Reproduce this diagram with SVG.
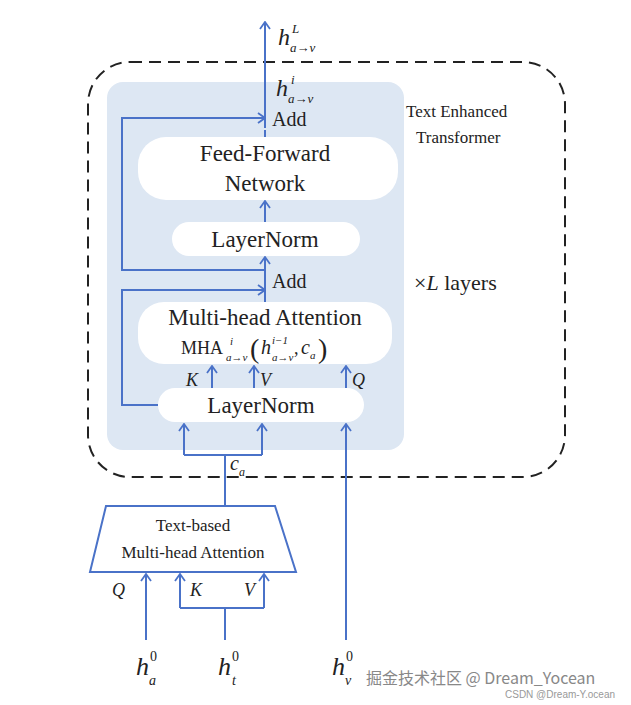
<svg xmlns="http://www.w3.org/2000/svg" width="631" height="705" viewBox="0 0 631 705">
<defs>
<marker id="a" viewBox="0 0 12 12" refX="11" refY="6" markerWidth="12" markerHeight="12" markerUnits="userSpaceOnUse" orient="auto"><path d="M4 1 L11 6 L4 11" fill="none" stroke="#4a72c8" stroke-width="1.8"/></marker>
</defs>
<style>
.t{font-family:"Liberation Serif",serif;fill:#222}
.i{font-style:italic}
.c{stroke:#4a72c8;stroke-width:2;fill:none}
.w{fill:#fff}
</style>
<rect width="631" height="705" fill="#fff"/>
<rect x="88" y="62" width="477" height="415" rx="42" fill="none" stroke="#222" stroke-width="2" stroke-dasharray="12,7"/>
<rect x="107" y="82" width="297" height="368" rx="16" fill="#dde7f3"/>
<g id="ffn"><rect class="w" x="138" y="137" width="260" height="63" rx="28"/>
<text class="t" x="265" y="161" font-size="23" text-anchor="middle">Feed-Forward</text>
<text class="t" x="265" y="191" font-size="23" text-anchor="middle">Network</text></g>
<g id="ln1"><rect class="w" x="172" y="222" width="188" height="34" rx="17"/>
<text class="t" x="265" y="247" font-size="23" text-anchor="middle">LayerNorm</text></g>
<g id="mha"><rect class="w" x="138" y="302" width="254" height="62" rx="26"/>
<text class="t" x="265" y="325" font-size="23" text-anchor="middle">Multi-head Attention</text>
<text class="t" x="181" y="354" font-size="18">MHA</text>
<text class="t i" x="230" y="345" font-size="11">i</text>
<text class="t i" x="226" y="361" font-size="11">a→v</text>
<text class="t" x="250" y="358" font-size="28">(</text>
<text class="t i" x="261" y="354" font-size="20">h</text>
<text class="t i" x="272" y="344" font-size="11">i−1</text>
<text class="t i" x="272" y="361" font-size="11">a→v</text>
<text class="t" x="294" y="354" font-size="18">,</text>
<text class="t i" x="301" y="354" font-size="20">c</text>
<text class="t i" x="310" y="359" font-size="11">a</text>
<text class="t" x="318" y="358" font-size="28">)</text></g>
<g id="ln2"><rect class="w" x="158" y="388" width="206" height="34" rx="17"/>
<text class="t" x="261" y="413" font-size="23" text-anchor="middle">LayerNorm</text></g>
<g id="tba"><path d="M106 506 L275 506 L296 572 L90 572 Z" fill="#fff" stroke="#4a72c8" stroke-width="2"/>
<text class="t" x="193" y="531" font-size="17" text-anchor="middle">Text-based</text>
<text class="t" x="193" y="558" font-size="17" text-anchor="middle">Multi-head Attention</text></g>
<g id="connectors">
<path class="c" d="M265 128 V22" marker-end="url(#a)"/>
<path class="c" d="M265 137 V130"/>
<path class="c" d="M265 222 V201" marker-end="url(#a)"/>
<path class="c" d="M265 270 V257" marker-end="url(#a)"/>
<path class="c" d="M265 302 V270"/>
<path class="c" d="M265 270 H122 V118 H265" marker-end="url(#a)"/>
<path class="c" d="M158 405 H122 V290 H265" marker-end="url(#a)"/>
<path class="c" d="M265 118 V112"/>
<path class="c" d="M212 388 V366" marker-end="url(#a)"/>
<path class="c" d="M254 388 V366" marker-end="url(#a)"/>
<path class="c" d="M346 388 V366" marker-end="url(#a)"/>
<path class="c" d="M184 455 V424" marker-end="url(#a)"/>
<path class="c" d="M262 455 V424" marker-end="url(#a)"/>
<path class="c" d="M184 455 H262 M225 455 V506"/>
<path class="c" d="M346 640 V424" marker-end="url(#a)"/>
<path class="c" d="M146 640 V574" marker-end="url(#a)"/>
<path class="c" d="M180 608 V574" marker-end="url(#a)"/>
<path class="c" d="M264 608 V574" marker-end="url(#a)"/>
<path class="c" d="M180 608 H264 M225 608 V640"/>
</g>
<g id="labels">
<text class="t i" x="278" y="45" font-size="24">h</text>
<text class="t i" x="292" y="33" font-size="13">L</text>
<text class="t i" x="290" y="52" font-size="13">a→v</text>
<text class="t i" x="276" y="96" font-size="24">h</text>
<text class="t i" x="291" y="84" font-size="13">i</text>
<text class="t i" x="288" y="103" font-size="13">a→v</text>
<text class="t" x="272" y="126" font-size="20">Add</text>
<text class="t" x="272" y="288" font-size="20">Add</text>
<text class="t" x="406" y="117" font-size="17">Text Enhanced</text>
<text class="t" x="416" y="143" font-size="17">Transformer</text>
<text class="t" x="414" y="290" font-size="22">×<tspan class="i">L</tspan> layers</text>
<text class="t i" x="186" y="386" font-size="18">K</text>
<text class="t i" x="260" y="386" font-size="18">V</text>
<text class="t i" x="352" y="386" font-size="18">Q</text>
<text class="t i" x="230" y="470" font-size="20">c</text>
<text class="t i" x="239" y="476" font-size="12">a</text>
<text class="t i" x="112" y="596" font-size="18">Q</text>
<text class="t i" x="190" y="596" font-size="18">K</text>
<text class="t i" x="244" y="596" font-size="18">V</text>
<text class="t i" x="136" y="675" font-size="26">h</text>
<text class="t" x="150" y="661" font-size="14">0</text>
<text class="t i" x="149" y="685" font-size="14">a</text>
<text class="t i" x="218" y="675" font-size="26">h</text>
<text class="t" x="232" y="661" font-size="14">0</text>
<text class="t i" x="232" y="685" font-size="14">t</text>
<text class="t i" x="332" y="675" font-size="26">h</text>
<text class="t" x="346" y="661" font-size="14">0</text>
<text class="t i" x="345" y="685" font-size="14">v</text>
<text x="366" y="684" font-size="16" fill="#888" font-family="'Noto Sans CJK SC',sans-serif">掘金技术社区 @ Dream_Yocean</text>
<text x="505" y="698" font-size="10" fill="#999" font-family="'Liberation Sans',sans-serif">CSDN @Dream-Y.ocean</text>
</g>
</svg>
